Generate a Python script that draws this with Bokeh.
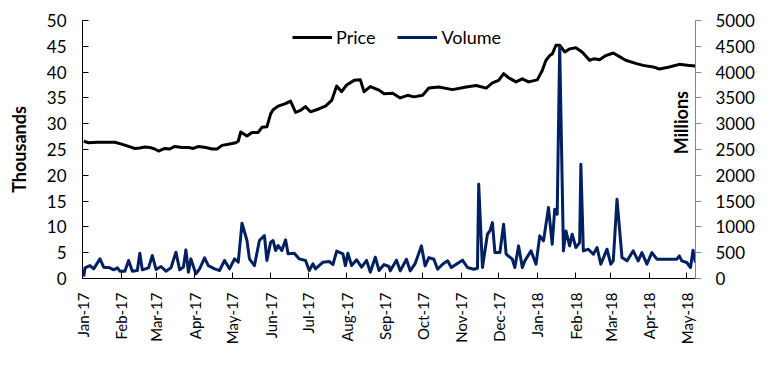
import pandas as pd
from math import pi
from bokeh.plotting import figure
from bokeh.models import Range1d, LinearAxis, DatetimeTickFormatter, MonthsTicker, Label
from bokeh.embed import file_html
from bokeh.resources import INLINE

# ---------------- data ----------------
price_dates = ["2017-01-02","2017-01-06","2017-01-13","2017-01-27","2017-02-02","2017-02-07","2017-02-12",
    "2017-02-16","2017-02-20","2017-02-24","2017-02-28","2017-03-03","2017-03-08","2017-03-12","2017-03-16",
    "2017-03-22","2017-03-27","2017-03-31","2017-04-04","2017-04-10","2017-04-15","2017-04-19","2017-04-23",
    "2017-04-28","2017-05-04","2017-05-06","2017-05-08","2017-05-13","2017-05-17","2017-05-22","2017-05-25",
    "2017-05-29","2017-06-01","2017-06-03","2017-06-07","2017-06-13","2017-06-17","2017-06-21","2017-06-25",
    "2017-06-29","2017-07-03","2017-07-10","2017-07-15","2017-07-20","2017-07-24","2017-07-28","2017-08-01",
    "2017-08-07","2017-08-12","2017-08-15","2017-08-20","2017-08-27","2017-08-31","2017-09-07","2017-09-13",
    "2017-09-19","2017-09-24","2017-10-01","2017-10-06","2017-10-14","2017-10-25","2017-11-05","2017-11-13",
    "2017-11-21","2017-11-26","2017-12-01","2017-12-05","2017-12-09","2017-12-15","2017-12-20","2017-12-25",
    "2018-01-01","2018-01-05","2018-01-08","2018-01-11","2018-01-13","2018-01-16","2018-01-19","2018-01-23",
    "2018-01-27","2018-02-01","2018-02-06","2018-02-12","2018-02-16","2018-02-20","2018-02-25","2018-03-03",
    "2018-03-08","2018-03-13","2018-03-21","2018-03-27","2018-04-04","2018-04-09","2018-04-17","2018-04-25",
    "2018-05-03","2018-05-08"]
price_values = [26.6,26.3,26.4,26.4,26.0,25.6,25.2,
    25.3,25.5,25.4,25.1,24.7,25.2,25.1,25.6,
    25.4,25.4,25.2,25.6,25.4,25.1,25.1,25.8,
    26.0,26.3,26.6,28.4,27.6,28.3,28.3,29.3,
    29.4,31.9,32.7,33.4,33.9,34.4,32.2,32.6,
    33.3,32.3,32.9,33.4,34.5,37.3,36.2,37.5,
    38.4,38.5,36.2,37.2,36.5,35.8,35.9,35.0,
    35.5,35.2,35.5,36.9,37.1,36.6,37.1,37.4,
    36.9,37.9,38.4,39.7,38.9,38.1,38.7,38.1,
    38.5,40.3,42.3,43.2,43.5,45.2,45.2,43.9,
    44.5,44.7,43.9,42.3,42.6,42.4,43.2,43.7,
    43.0,42.3,41.7,41.3,41.0,40.6,41.0,41.5,
    41.3,41.2]

volume_dates = ["2017-01-02","2017-01-03","2017-01-07","2017-01-10","2017-01-15","2017-01-18","2017-01-23",
    "2017-01-26","2017-01-29","2017-01-31","2017-02-04","2017-02-07","2017-02-10","2017-02-14","2017-02-16",
    "2017-02-18","2017-02-23","2017-02-26","2017-03-01","2017-03-05","2017-03-09","2017-03-13","2017-03-17",
    "2017-03-20","2017-03-23","2017-03-25","2017-03-27","2017-03-29","2017-04-02","2017-04-05","2017-04-09",
    "2017-04-12","2017-04-17","2017-04-21","2017-04-25","2017-04-29","2017-05-03","2017-05-06","2017-05-09",
    "2017-05-13","2017-05-15","2017-05-19","2017-05-23","2017-05-27","2017-05-29","2017-06-01","2017-06-03",
    "2017-06-05","2017-06-07","2017-06-10","2017-06-13","2017-06-15","2017-06-20","2017-06-24","2017-06-29",
    "2017-07-02","2017-07-05","2017-07-07","2017-07-13","2017-07-18","2017-07-21","2017-07-24","2017-07-29",
    "2017-07-31","2017-08-02","2017-08-05","2017-08-09","2017-08-13","2017-08-17","2017-08-20","2017-08-24",
    "2017-08-27","2017-08-31","2017-09-04","2017-09-05","2017-09-10","2017-09-13","2017-09-18","2017-09-21",
    "2017-09-25","2017-09-30","2017-10-03","2017-10-06","2017-10-10","2017-10-13","2017-10-17","2017-10-21",
    "2017-10-24","2017-10-28","2017-11-02","2017-11-06","2017-11-11","2017-11-14","2017-11-15","2017-11-18",
    "2017-11-22","2017-11-24","2017-11-26","2017-11-28","2017-12-02","2017-12-05","2017-12-07","2017-12-12",
    "2017-12-14","2017-12-17","2017-12-20","2017-12-22","2017-12-27","2017-12-31","2018-01-03","2018-01-06",
    "2018-01-10","2018-01-13","2018-01-15","2018-01-17","2018-01-19","2018-01-22","2018-01-24","2018-01-27",
    "2018-01-29","2018-02-01","2018-02-04","2018-02-05","2018-02-07","2018-02-11","2018-02-15","2018-02-18",
    "2018-02-21","2018-02-26","2018-03-01","2018-03-03","2018-03-06","2018-03-10","2018-03-14","2018-03-19",
    "2018-03-23","2018-03-26","2018-03-30","2018-04-03","2018-04-07","2018-04-23","2018-04-25","2018-04-27",
    "2018-05-01","2018-05-04","2018-05-06","2018-05-08"]
volume_values = [40,207,250,187,380,220,207,
    168,207,142,142,350,142,155,490,
    168,207,446,175,233,142,207,510,
    168,220,555,123,380,90,187,400,
    250,187,155,350,187,380,316,1072,
    736,380,250,736,833,350,704,736,
    542,640,542,750,478,490,380,350,
    155,284,187,316,330,270,530,478,
    250,490,250,362,220,350,123,413,
    155,270,233,148,355,148,374,148,
    290,632,245,406,374,180,277,342,
    213,277,355,213,180,200,1825,213,
    858,922,1083,503,503,1051,471,374,
    213,632,213,342,535,277,826,729,
    1374,664,1342,1245,4500,535,922,632,
    858,600,697,2212,535,568,471,600,
    277,568,277,342,1535,406,342,535,
    342,503,277,503,374,374,439,342,
    310,213,548,310]

left_ticks = [0, 5, 10, 15, 20, 25, 30, 35, 40, 45, 50]
right_ticks = [0, 500, 1000, 1500, 2000, 2500, 3000, 3500, 4000, 4500, 5000]
series_names = ["Price", "Volume"]
x_start, x_end = "2017-01-01", "2018-05-08"

# ---------------- figure ----------------
FONT = "Lato"
p = figure(width=775, height=368, x_axis_type="datetime",
           x_range=Range1d(pd.Timestamp(x_start), pd.Timestamp(x_end)),
           y_range=Range1d(left_ticks[0], left_ticks[-1]),
           output_backend="svg", toolbar_location=None,
           min_border_left=82, min_border_right=80, min_border_top=20, min_border_bottom=90)
p.extra_y_ranges = {"vol": Range1d(right_ticks[0], right_ticks[-1])}
p.grid.visible = False
p.outline_line_color = None
p.background_fill_color = "white"
p.border_fill_color = "white"

p.line(pd.to_datetime(price_dates), price_values, line_color="black", line_width=3,
       line_join="round", legend_label=series_names[0])
p.line(pd.to_datetime(volume_dates), volume_values, line_color="#002060", line_width=3,
       line_join="round", y_range_name="vol", legend_label=series_names[1])

# x axis
xa = p.xaxis[0]
xa.ticker = MonthsTicker(months=list(range(12)))
fmt = "%b-%y"
xa.formatter = DatetimeTickFormatter(days=fmt, months=fmt, years=fmt)
xa.major_label_orientation = pi / 2
xa.major_tick_in = 6
xa.major_tick_out = 0
xa.minor_tick_line_color = None
xa.major_label_standoff = 14
xa.major_label_text_font = FONT
xa.major_label_text_font_size = "15px"
xa.major_label_text_color = "black"
xa.axis_line_color = "black"

# left axis
ya = p.yaxis[0]
ya.ticker = left_ticks
ya.major_tick_in = 6
ya.major_tick_out = 0
ya.minor_tick_line_color = None
ya.major_label_standoff = 16
ya.major_label_text_font = FONT
ya.major_label_text_font_size = "17px"
ya.major_label_text_color = "black"
ya.axis_label = "Thousands"
ya.axis_label_text_font = FONT
ya.axis_label_text_font_size = "18px"
ya.axis_label_text_font_style = "bold"
ya.axis_label_standoff = 14
ya.axis_label_text_color = "black"

# right axis
ra = LinearAxis(y_range_name="vol", ticker=right_ticks)
ra.major_tick_in = 0
ra.major_tick_out = 6
ra.minor_tick_line_color = None
ra.axis_line_color = "#868686"
ra.major_tick_line_color = "#868686"
ra.major_label_standoff = 14
ra.major_label_text_font = FONT
ra.major_label_text_font_size = "17px"
ra.major_label_text_color = "black"
p.add_layout(ra, "right")

# right axis title (sits inside the plot area, as in the reference)
p.add_layout(Label(x=pd.Timestamp("2018-04-26"), y=30.2, text="Millions", angle=pi / 2,
                   text_align="center", text_baseline="middle", text_font=FONT,
                   text_font_size="18px", text_font_style="bold", text_color="black"))

# legend
lg = p.legend[0]
lg.orientation = "horizontal"
lg.location = (210, 230)
lg.background_fill_alpha = 0
lg.border_line_alpha = 0
lg.padding = 0
lg.margin = 0
lg.spacing = 22
lg.glyph_width = 40
lg.glyph_height = 20
lg.label_standoff = 4
lg.label_text_font = FONT
lg.label_text_font_size = "18px"
lg.label_text_color = "black"

open("out.html", "w").write(file_html(p, INLINE))
